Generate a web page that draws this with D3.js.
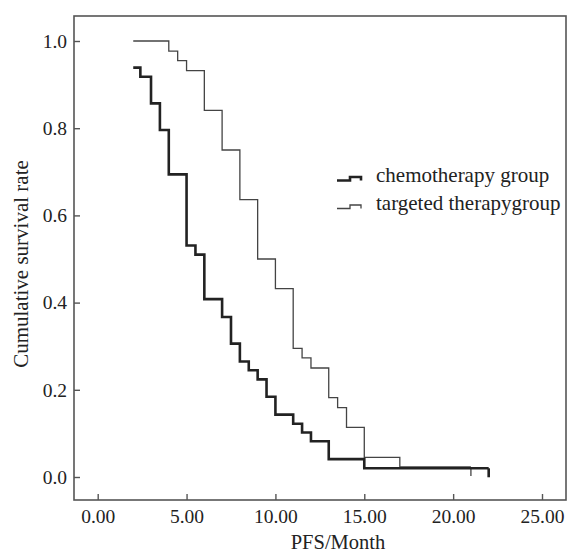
<!DOCTYPE html>
<html>
<head>
<meta charset="utf-8">
<script src="https://cdn.jsdelivr.net/npm/d3@7"></script>
<style>
  html, body { margin: 0; padding: 0; background: #fff; }
  svg { display: block; }
  text { font-family: "Liberation Serif", "Times New Roman", serif; fill: #222; }
</style>
</head>
<body>
<div id="chart"></div>
<script>
// ---- data ----
const seriesNames = ["chemotherapy group", "targeted therapygroup"];
const chemoTimes = [2.0, 2.4, 3.0, 3.5, 4.0, 5.0, 5.5, 6.0, 7.0, 7.5, 8.0, 8.5, 9.0, 9.5, 10.0, 11.0, 11.5, 12.0, 13.0, 15.0, 22.0];
const chemoSurv  = [0.939, 0.918, 0.857, 0.796, 0.694, 0.531, 0.510, 0.408, 0.367, 0.306, 0.265, 0.245, 0.224, 0.184, 0.143, 0.122, 0.102, 0.082, 0.041, 0.020, 0.020];
const targTimes  = [2.0, 4.0, 4.5, 5.0, 6.0, 7.0, 8.0, 9.0, 10.0, 11.0, 11.5, 12.0, 13.0, 13.5, 14.0, 15.0, 17.0, 21.0];
const targSurv   = [1.0, 0.977, 0.955, 0.932, 0.841, 0.75, 0.636, 0.5, 0.432, 0.295, 0.273, 0.25, 0.182, 0.159, 0.114, 0.045, 0.023, 0.023];
const xTicks = [0, 5, 10, 15, 20, 25];
const yTicks = [0, 0.2, 0.4, 0.6, 0.8, 1.0];
const xTitle = "PFS/Month";
const yTitle = "Cumulative survival rate";

// ---- layout ----
const W = 569, H = 555;
const frame = { left: 74, right: 566, top: 16, bottom: 500 };

const svg = d3.select("#chart").append("svg").attr("width", W).attr("height", H);

const x = d3.scaleLinear().domain([0, 25]).range([97.7, 542]);
const y = d3.scaleLinear().domain([0, 1]).range([477, 41]);

// frame
svg.append("rect")
  .attr("x", frame.left).attr("y", frame.top)
  .attr("width", frame.right - frame.left).attr("height", frame.bottom - frame.top)
  .attr("fill", "none").attr("stroke", "#555").attr("stroke-width", 1.6);

// x axis (ticks inward)
const xAxis = svg.append("g")
  .attr("transform", `translate(0,${frame.bottom})`)
  .call(d3.axisBottom(x).tickValues(xTicks).tickFormat(d3.format(".2f")).tickSizeInner(-6).tickSizeOuter(0).tickPadding(9));
xAxis.select(".domain").remove();
xAxis.selectAll("line").attr("stroke", "#555").attr("stroke-width", 1.4);
xAxis.selectAll("text").attr("font-size", 19.5).attr("fill", "#222")
  .attr("font-family", "Liberation Serif, serif");

// y axis (ticks inward)
const yAxis = svg.append("g")
  .attr("transform", `translate(${frame.left},0)`)
  .call(d3.axisLeft(y).tickValues(yTicks).tickFormat(d3.format(".1f")).tickSizeInner(-6).tickSizeOuter(0).tickPadding(7));
yAxis.select(".domain").remove();
yAxis.selectAll("line").attr("stroke", "#555").attr("stroke-width", 1.4);
yAxis.selectAll("text").attr("font-size", 19.5).attr("fill", "#222")
  .attr("font-family", "Liberation Serif, serif");

// titles
svg.append("text")
  .attr("x", 338).attr("y", 549)
  .attr("text-anchor", "middle").attr("font-size", 20.5)
  .text(xTitle);
svg.append("text")
  .attr("transform", "translate(28,264) rotate(-90)")
  .attr("text-anchor", "middle").attr("font-size", 21)
  .text(yTitle);

// curves
const line = d3.line().x(d => x(d[0])).y(d => y(d[1])).curve(d3.curveStepAfter);
const chemo = chemoTimes.map((t, i) => [t, chemoSurv[i]]);
const targ = targTimes.map((t, i) => [t, targSurv[i]]);

const styles = [
  { data: targ, color: "#444", width: 1.3 },
  { data: chemo, color: "#222", width: 2.6 }
];
styles.forEach(s => {
  svg.append("path").attr("d", line(s.data))
    .attr("fill", "none").attr("stroke", s.color).attr("stroke-width", s.width)
    .attr("stroke-linejoin", "miter");
  // censor tick at last observation
  const last = s.data[s.data.length - 1];
  svg.append("line")
    .attr("x1", x(last[0])).attr("x2", x(last[0]))
    .attr("y1", y(last[1])).attr("y2", y(last[1]) + 9)
    .attr("stroke", s.color).attr("stroke-width", s.width);
});

// legend
const legend = [
  { name: seriesNames[0], color: "#222", width: 2.6, yy: 179, ty: 182 },
  { name: seriesNames[1], color: "#444", width: 1.3, yy: 207, ty: 210 }
];
legend.forEach(l => {
  const g = svg.append("g");
  g.append("path")
    .attr("d", `M337,${l.yy + 1.5} H350 V${l.yy - 2} H361 V${l.yy + 1.5}`)
    .attr("fill", "none").attr("stroke", l.color).attr("stroke-width", l.width);
  g.append("text").attr("x", 376).attr("y", l.ty)
    .attr("font-size", 21).text(l.name);
});
</script>
</body>
</html>
